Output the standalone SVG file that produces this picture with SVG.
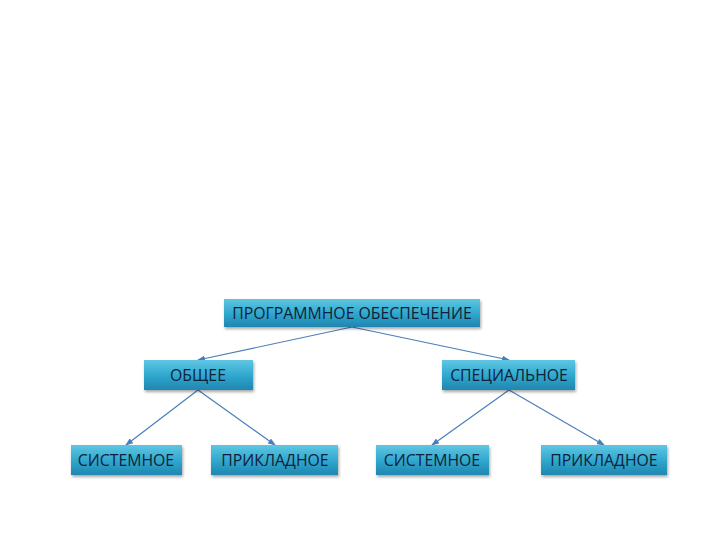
<svg xmlns="http://www.w3.org/2000/svg" width="720" height="540" viewBox="0 0 720 540">
<defs>
<linearGradient id="g" x1="0" y1="0" x2="0" y2="1">
<stop offset="0" stop-color="#5fc6e2"/>
<stop offset="0.5" stop-color="#31a9cf"/>
<stop offset="1" stop-color="#1f86b0"/>
</linearGradient>
<filter id="sh" x="-10%" y="-20%" width="120%" height="160%">
<feDropShadow dx="1" dy="2" stdDeviation="1.5" flood-color="#000" flood-opacity="0.35"/>
</filter>
<marker id="ar" markerWidth="8" markerHeight="6" refX="7" refY="3" orient="auto" markerUnits="userSpaceOnUse">
<path d="M0,0 L8,3 L0,6 Z" fill="#4a7ebb"/>
</marker>
<style>
.box{fill:url(#g);filter:url(#sh);}
.t{font-family:"Open Sans","Liberation Sans",sans-serif;font-size:15.8px;fill:#0f1f3a;text-anchor:middle;dominant-baseline:central;}
.c{stroke:#4a7ebb;stroke-width:1.2;fill:none;marker-end:url(#ar);}
</style>
</defs>
<rect width="720" height="540" fill="#fff"/>
<g id="connectors">
<line class="c" x1="352" y1="327" x2="198" y2="360"/>
<line class="c" x1="352" y1="327" x2="509" y2="360"/>
<line class="c" x1="198" y1="390" x2="126" y2="445"/>
<line class="c" x1="198" y1="390" x2="275" y2="445"/>
<line class="c" x1="509" y1="390" x2="432" y2="445"/>
<line class="c" x1="509" y1="390" x2="604" y2="445"/>
</g>
<g id="root"><rect class="box" x="224" y="299" width="256" height="28"/><text class="t" x="352" y="313">ПРОГРАММНОЕ ОБЕСПЕЧЕНИЕ</text></g>
<g id="general"><rect class="box" x="144" y="360" width="109" height="30"/><text class="t" x="198" y="375">ОБЩЕЕ</text></g>
<g id="special"><rect class="box" x="442" y="360" width="133" height="30"/><text class="t" x="509" y="375">СПЕЦИАЛЬНОЕ</text></g>
<g id="gen-sys"><rect class="box" x="71" y="445" width="111" height="30"/><text class="t" x="126" y="460">СИСТЕМНОЕ</text></g>
<g id="gen-app"><rect class="box" x="211" y="445" width="127" height="30"/><text class="t" x="275" y="460">ПРИКЛАДНОЕ</text></g>
<g id="spec-sys"><rect class="box" x="376" y="445" width="113" height="30"/><text class="t" x="432" y="460">СИСТЕМНОЕ</text></g>
<g id="spec-app"><rect class="box" x="541" y="445" width="126" height="30"/><text class="t" x="604" y="460">ПРИКЛАДНОЕ</text></g>
</svg>
